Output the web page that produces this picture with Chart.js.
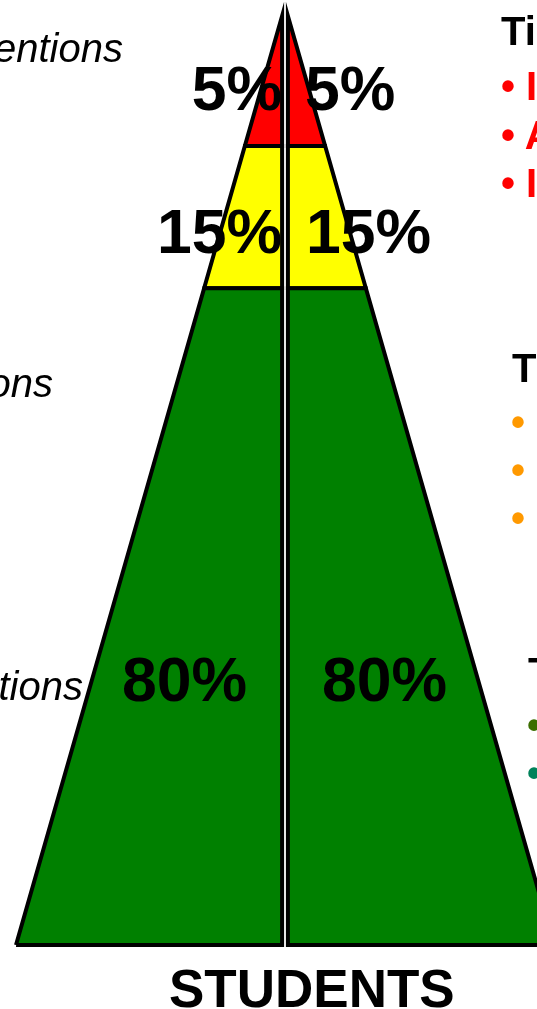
<!DOCTYPE html>
<html>
<head>
<meta charset="utf-8">
<script src="https://cdn.jsdelivr.net/npm/chart.js@4.4.1/dist/chart.umd.min.js"></script>
<style>
  html, body { margin: 0; padding: 0; width: 537px; height: 1009px; overflow: hidden; background: #fff; }
  #wrap { position: relative; width: 537px; height: 1009px; overflow: hidden; }
  #pyramid { position: absolute; left: 0; top: 0; }
  .txt { position: absolute; white-space: nowrap; font-family: "Liberation Sans", Arial, sans-serif; }
</style>
</head>
<body>
<div id="wrap">
  <canvas id="pyramid" width="537" height="1009"></canvas>
</div>
<script>
// tiers from the base of the pyramid to the apex
const tiers = ['Tier 1', 'Tier 2', 'Tier 3'];
const tierShare = [80, 15, 5];              // % of students in each tier
const tierBounds = [0, 70.7, 86, 100];      // tier edges, % of pyramid height (base -> apex)
const tierColors = ['#008000', '#ffff00', '#ff0000'];

const sideLabels = ['Universal Interventions', 'Targeted Group Interventions', 'Intensive, Individual Interventions'];
const tierHeads = ['Tier 1: Universal Interventions', 'Tier 2: Targeted Group Interventions', 'Tier 3: Intensive, Individual Interventions'];
const tierPoints = [
    ['All students', 'Preventive, proactive'],
    ['Some students (at-risk)', 'High efficiency', 'Rapid response'],
    ['Individual Students', 'Assessment-based', 'Intense, durable procedures']
];
const pointColors = [['#3c6e00', '#00825a'], ['#ff9900', '#ff9900', '#ff9900'], ['#ff0000', '#ff0000', '#ff0000']];

const W = 537;
const gap = 2.9 / 269;   // half of the split down the middle, in half-base units

function outer(side, h) {
    return side * (gap + (1 - gap) * (100 - h) / 100);
}

function tierShape(i, side) {
    const h0 = tierBounds[i];
    const h1 = tierBounds[i + 1];
    const pts = [
        { x: outer(side, h0), y: h0 },
        { x: side * gap, y: h0 },
        { x: side * gap, y: h1 }
    ];
    if (h1 < 100) pts.push({ x: outer(side, h1), y: h1 });
    pts.push(pts[0]);
    return pts;
}

const datasets = [];
[-1, 1].forEach(side => {
    tiers.forEach((t, i) => {
        datasets.push({
            label: t,
            data: tierShape(i, side),
            backgroundColor: tierColors[i],
            borderColor: '#000',
            borderWidth: 4,
            borderJoinStyle: 'miter',
            fill: 'shape',
            tension: 0,
            pointRadius: 0
        });
    });
});

new Chart(document.getElementById('pyramid'), {
    type: 'line',
    data: { datasets: datasets },
    options: {
        responsive: false,
        devicePixelRatio: 1,
        animation: false,
        layout: { padding: 0 },
        plugins: { legend: { display: false }, tooltip: { enabled: false } },
        scales: {
            x: { type: 'linear', display: false, min: -285 / 269, max: 252 / 269 },
            y: { type: 'linear', display: false, min: -6.889, max: 101.722 }
        }
    }
});

// text layer
const wrap = document.getElementById('wrap');

function addText(text, x, baseline, size, opts) {
    const el = document.createElement('div');
    el.className = 'txt';
    el.textContent = text;
    el.style.fontSize = size + 'px';
    el.style.lineHeight = size + 'px';
    el.style.top = (baseline - 0.8465 * size) + 'px';
    el.style.fontWeight = opts.bold ? 'bold' : 'normal';
    el.style.fontStyle = opts.italic ? 'italic' : 'normal';
    el.style.color = opts.color || '#000';
    if (opts.right) el.style.right = (W - x) + 'px';
    else el.style.left = x + 'px';
    wrap.appendChild(el);
}

// share labels, left and right half (base -> apex)
const shareLeft = [[122, 701, false], [282, 253, true], [282, 110, true]];
const shareRight = [[322, 701], [306, 253], [305, 110]];
tierShare.forEach((v, i) => {
    addText(v + '%', shareLeft[i][0], shareLeft[i][1], 62.5, { bold: true, right: shareLeft[i][2] });
    addText(v + '%', shareRight[i][0], shareRight[i][1], 62.5, { bold: true });
});

// labels to the left of the pyramid
const sidePos = [[83, 700], [53, 397], [123, 62]];
sideLabels.forEach((s, i) => {
    addText(s, sidePos[i][0], sidePos[i][1], 40, { italic: true, right: true });
});

// tier descriptions to the right
const headPos = [[528, 686], [512, 382], [501, 45]];
const pointX = [527, 511, 501];
const pointBase = [[739, 787], [436, 484, 532], [100, 148.5, 197]];
tierHeads.forEach((h, i) => {
    addText(h, headPos[i][0], headPos[i][1], 40, { bold: true });
    tierPoints[i].forEach((p, j) => {
        addText('\u2022 ' + p, pointX[i], pointBase[i][j], 40, { bold: true, color: pointColors[i][j] });
    });
});

addText('STUDENTS', 169, 1007, 53, { bold: true });
</script>
</body>
</html>
